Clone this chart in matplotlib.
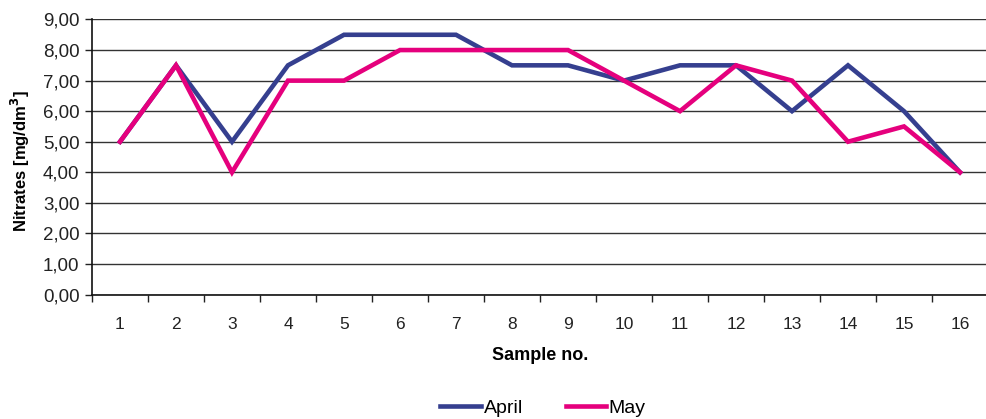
import matplotlib
matplotlib.use("Agg")
import matplotlib.pyplot as plt
from matplotlib.ticker import FuncFormatter, FixedLocator

plt.rcParams["font.family"] = ["Liberation Sans", "DejaVu Sans"]

samples = list(range(1, 17))
april = [5.0, 7.5, 5.0, 7.5, 8.5, 8.5, 8.5, 7.5, 7.5, 7.0, 7.5, 7.5, 6.0, 7.5, 6.0, 4.0]
may = [5.0, 7.5, 4.0, 7.0, 7.0, 8.0, 8.0, 8.0, 8.0, 7.0, 6.0, 7.5, 7.0, 5.0, 5.5, 4.0]

fig = plt.figure(figsize=(9.86, 4.19), dpi=100)
W, H = 986, 419
x0, x1, ytop, ybot = 92, 988, 19.5, 294.5
ax = fig.add_axes([x0 / W, 1 - ybot / H, (x1 - x0) / W, (ybot - ytop) / H])

ax.plot(samples, april, color="#353F8F", linewidth=3.3, label="April", solid_joinstyle="miter")
ax.plot(samples, may, color="#E5007D", linewidth=3.3, label="May", solid_joinstyle="miter")

ax.set_xlim(0.5, 16.5)
ax.set_ylim(0, 9)
ax.set_yticks(range(0, 10))
ax.yaxis.set_major_formatter(FuncFormatter(lambda v, p: f"{v:.2f}".replace(".", ",")))
ax.set_xticks(samples)
ax.xaxis.set_minor_locator(FixedLocator([s + 0.5 for s in range(0, 17)]))
ax.tick_params(axis="x", which="major", length=0, pad=16, labelsize=12.5, colors="#222222")
ax.tick_params(axis="x", which="minor", length=5, width=1, direction="out", color="#222222")
ax.tick_params(axis="y", length=5, width=1, direction="out", labelsize=13.5, colors="#222222", pad=4)

ax.grid(axis="y", color="#333333", linewidth=1)
ax.set_axisbelow(True)
for s in ("top", "right"):
    ax.spines[s].set_visible(False)
for s in ("left", "bottom"):
    ax.spines[s].set_color("#111111")
    ax.spines[s].set_linewidth(1.2)

ax.set_xlabel("Sample no.", fontsize=13, fontweight="bold")
ax.set_ylabel("Nitrates [mg/dm$\\mathbf{^3}$]", fontsize=12, fontweight="bold")
ax.xaxis.set_label_coords((540 - x0) / (x1 - x0), -(355 - ybot) / (ybot - ytop))
ax.xaxis.label.set_va("center")
ax.yaxis.set_label_coords(-(x0 - 20) / (x1 - x0), (ybot - 161) / (ybot - ytop))
ax.yaxis.label.set_va("center")

fig.legend(loc="center", bbox_to_anchor=(543 / W, 1 - 408 / H), ncol=2, frameon=False,
           fontsize=14, handlelength=2.1, handletextpad=0.12, columnspacing=2.2)

fig.savefig("out.png", dpi=100)
